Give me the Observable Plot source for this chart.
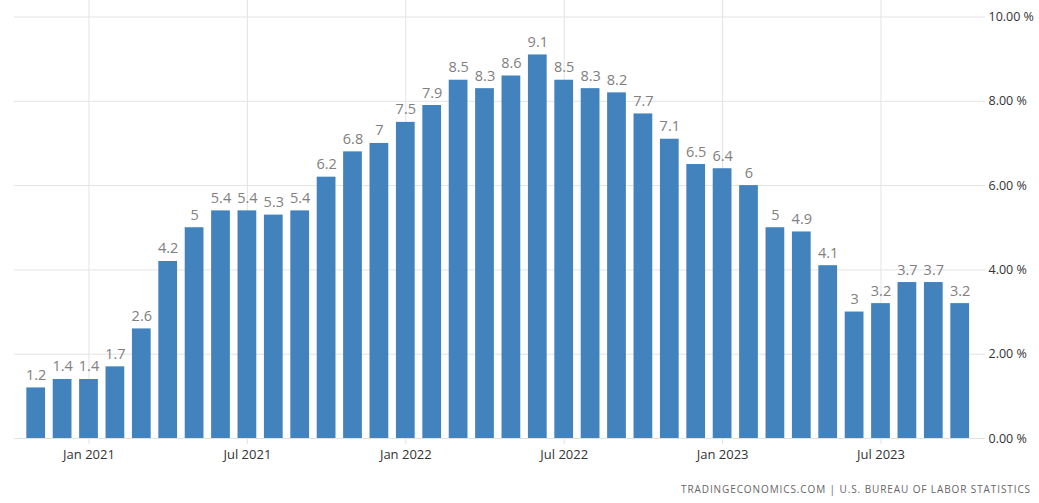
<!DOCTYPE html>
<html>
<head>
<meta charset="utf-8">
<script src="https://cdn.jsdelivr.net/npm/d3@7"></script>
<script src="https://cdn.jsdelivr.net/npm/@observablehq/plot@0.6"></script>
<style>
  html, body { margin: 0; padding: 0; background: #fff; }
  #chart svg { display: block; }
  #caption { width: 1039px; box-sizing: border-box; text-align: right; padding-right: 8px;
    font-family: "Open Sans", sans-serif; font-size: 10px; letter-spacing: 0.9px; color: #666; line-height: 14px; }
</style>
</head>
<body>
<div id="chart"></div>
<div id="caption">TRADINGECONOMICS.COM | U.S. BUREAU OF LABOR STATISTICS</div>
<script>
const months = ["2020-11","2020-12","2021-01","2021-02","2021-03","2021-04","2021-05","2021-06","2021-07","2021-08","2021-09","2021-10","2021-11","2021-12","2022-01","2022-02","2022-03","2022-04","2022-05","2022-06","2022-07","2022-08","2022-09","2022-10","2022-11","2022-12","2023-01","2023-02","2023-03","2023-04","2023-05","2023-06","2023-07","2023-08","2023-09","2023-10"];
const values = [1.2,1.4,1.4,1.7,2.6,4.2,5,5.4,5.4,5.3,5.4,6.2,6.8,7,7.5,7.9,8.5,8.3,8.6,9.1,8.5,8.3,8.2,7.7,7.1,6.5,6.4,6,5,4.9,4.1,3,3.2,3.7,3.7,3.2];
const tickMonths = ["2021-01","2021-07","2022-01","2022-07","2023-01","2023-07"];
const tickLabels = ["Jan 2021","Jul 2021","Jan 2022","Jul 2022","Jan 2023","Jul 2023"];
const yTicks = [0,2,4,6,8,10];

const data = months.map((m, i) => ({month: m, value: values[i]}));
const labelOf = new Map(tickMonths.map((m, i) => [m, tickLabels[i]]));

const chart = Plot.plot({
  width: 1039,
  height: 482,
  marginTop: 0,
  marginBottom: 44,
  marginLeft: 14,
  marginRight: 54,
  style: {fontFamily: "'Open Sans', sans-serif", background: "#fff"},
  x: {type: "band", domain: months, range: [22.5, 972.9], paddingInner: 0.29, paddingOuter: 0.145, round: false, axis: null, label: null},
  y: {domain: [0, 438 / 42.15], axis: null, label: null},
  marks: [
    Plot.ruleY(yTicks, {y: d => d, stroke: "#e3e3e3", strokeWidth: 1}),
    Plot.ruleX(tickMonths, {x: d => d, stroke: "#e3e3e3", strokeWidth: 1, insetBottom: -6}),
    Plot.barY(data, {x: "month", y: "value", fill: "#4282bd"}),
    Plot.text(data, {x: "month", y: "value", text: d => String(d.value), lineAnchor: "bottom", dy: -8, fill: "#808080", fontSize: 14.5}),
    Plot.axisY(yTicks, {anchor: "right", label: null, tickSize: 0, tickPadding: 3, tickFormat: d => d.toFixed(2) + " %", fontSize: 12.5, color: "#333"}),
    Plot.axisX(tickMonths, {anchor: "bottom", label: null, tickSize: 0, tickPadding: 11, tickFormat: d => labelOf.get(d), fontSize: 13, color: "#333"})
  ]
});
document.getElementById("chart").appendChild(chart);
</script>
</body>
</html>
